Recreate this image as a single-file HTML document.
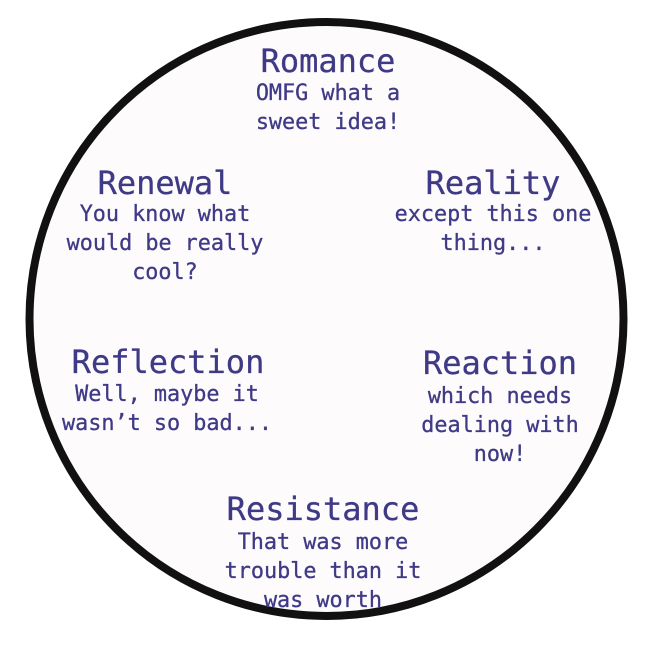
<!DOCTYPE html>
<html><head><meta charset="utf-8"><style>
html,body{margin:0;padding:0;background:#fff;width:648px;height:648px;overflow:hidden}
.c{position:absolute;width:600px;text-align:center;font-family:"DejaVu Sans Mono","Liberation Mono",monospace;color:#3f3a86;white-space:pre;-webkit-text-stroke:0.3px #3f3a86}
.t{font-size:32px;line-height:32px}
.b{font-size:21.8px;line-height:29px}
</style></head><body>
<svg width="648" height="648" style="position:absolute;left:0;top:0">
<circle cx="326.5" cy="319" r="297" fill="#fdfbfc" stroke="#111" stroke-width="8"/>
</svg>
<div class="c t" style="left:28px;top:45px">Romance</div>
<div class="c b" style="left:28px;top:79px">OMFG what a
sweet idea!</div>
<div class="c t" style="left:-135px;top:167px">Renewal</div>
<div class="c b" style="left:-135px;top:200px">You know what
would be really
cool?</div>
<div class="c t" style="left:193px;top:167px">Reality</div>
<div class="c b" style="left:193px;top:200px">except this one
thing...</div>
<div class="c t" style="left:-132px;top:346px">Reflection</div>
<div class="c b" style="left:-133px;top:380px">Well, maybe it
wasn’t so bad...</div>
<div class="c t" style="left:200px;top:347px">Reaction</div>
<div class="c b" style="left:200px;top:382px">which needs
dealing with
now!</div>
<div class="c t" style="left:23px;top:493px">Resistance</div>
<div class="c b" style="left:23px;top:528px">That was more
trouble than it
was worth</div>
</body></html>
